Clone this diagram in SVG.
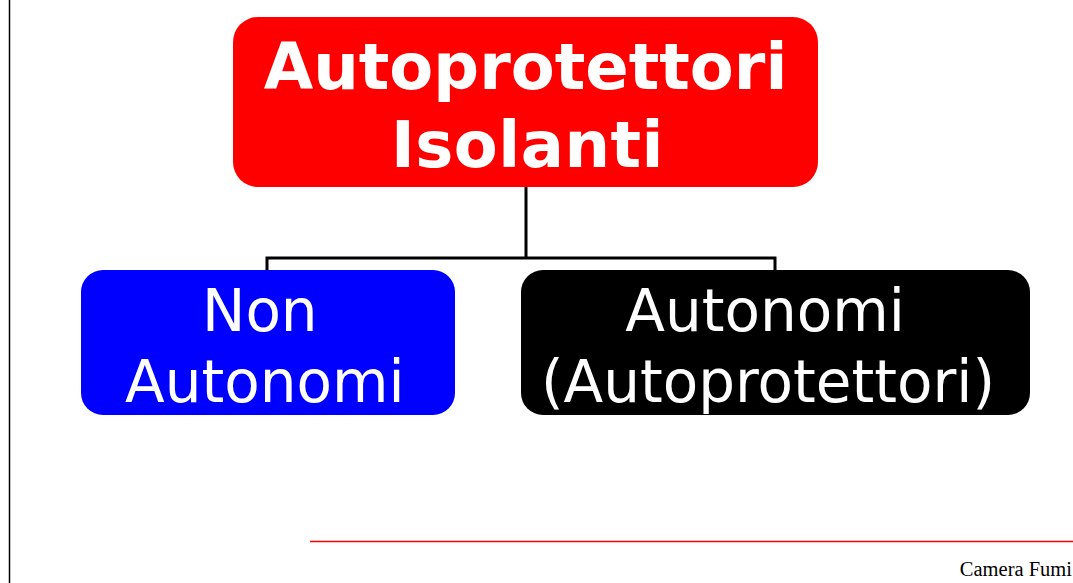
<svg xmlns="http://www.w3.org/2000/svg" width="1073" height="583" viewBox="0 0 1073 583">
  <style>
    .title { font-family: "DejaVu Sans", Verdana, sans-serif; font-weight: bold; font-size: 64px; fill: #ffffff; }
    .label { font-family: "DejaVu Sans", Verdana, sans-serif; font-size: 58px; fill: #ffffff; }
    .link { fill: none; stroke: #000000; stroke-width: 3; }
    .footer { font-family: "Liberation Serif", "Times New Roman", serif; font-size: 20.5px; fill: #000000; }
  </style>
  <rect x="0" y="0" width="1073" height="583" fill="#ffffff"/>
  <!-- page margin rule -->
  <line x1="9.5" y1="0" x2="9.5" y2="583" stroke="#000000" stroke-width="1.5"/>

  <g id="connectors">
    <path class="link" d="M526 187 V258"/>
    <path class="link" d="M267 271 V258 H775 V271"/>
  </g>

  <g id="node-root">
    <rect x="233" y="17" width="585" height="170" rx="25" ry="25" fill="#ff0000"/>
    <text class="title" x="525.5" y="89" text-anchor="middle">Autoprotettori</text>
    <text class="title" x="527.5" y="167" text-anchor="middle" letter-spacing="0.5">Isolanti</text>
  </g>

  <g id="node-non-autonomi">
    <rect x="81" y="270" width="374" height="145" rx="22" ry="22" fill="#0000ff"/>
    <text class="label" x="202" y="331">Non</text>
    <text class="label" x="125" y="402">Autonomi</text>
  </g>

  <g id="node-autonomi">
    <rect x="521" y="270" width="509" height="145" rx="22" ry="22" fill="#000000"/>
    <text class="label" x="765" y="331" text-anchor="middle">Autonomi</text>
    <text class="label" x="768" y="402" text-anchor="middle">(Autoprotettori)</text>
  </g>

  <!-- footer -->
  <line x1="310" y1="541.5" x2="1073" y2="541.5" stroke="#ff0000" stroke-width="1.5"/>
  <text class="footer" x="1072" y="576" text-anchor="end">Camera Fumi</text>
</svg>
